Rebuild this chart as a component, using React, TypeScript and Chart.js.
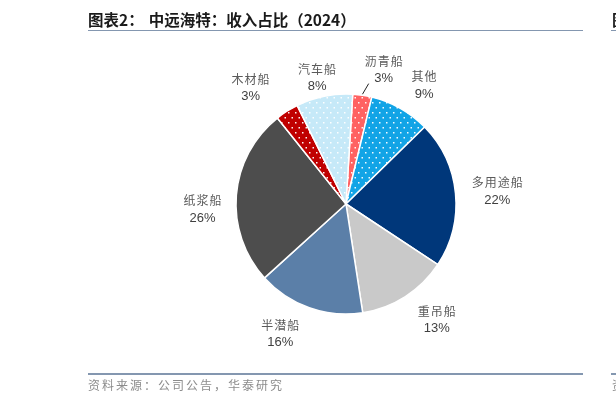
import { useEffect, useRef } from "react"
import { Chart, registerables } from "chart.js"

Chart.register(...registerables)

// Revenue share by ship type, clockwise from 12 o'clock
const categories = ["沥青船", "其他", "多用途船", "重吊船", "半潜船", "纸浆船", "木材船", "汽车船"]
const shares = [2.8, 8.9, 21.6, 13.3, 15.7, 26.0, 3.4, 8.3]
const shareLabels = ["3%", "9%", "22%", "13%", "16%", "26%", "3%", "8%"]

const sliceColors = ["#FF6262", "#12A4E6", "#00377A", "#C9C9C9", "#5B7FA8", "#4D4D4D", "#C00000", "#C6E9F8"]
const dotted = [true, true, false, false, false, false, true, true]
// label nudges (px) from the default spot just outside each slice
const labelNudge: [number, number][] = [
  [16, 10],
  [6, 8],
  [6, 1],
  [12, -7],
  [-17, -8],
  [2, 17],
  [-17, 7],
  [0, 17],
]
const leaderLine = [true, false, false, false, false, false, false, false]

function dotPattern(color: string) {
  const c = document.createElement("canvas")
  c.width = 7
  c.height = 10
  const g = c.getContext("2d")!
  g.fillStyle = color
  g.fillRect(0, 0, 7, 10)
  g.fillStyle = "rgba(255,255,255,0.95)"
  g.fillRect(1, 2, 1.5, 1.5)
  g.fillRect(4.5, 7, 1.5, 1.5)
  return g.createPattern(c, "repeat")!
}

const labelPlugin = {
  id: "sliceLabels",
  afterDatasetsDraw(chart: any) {
    const ctx = chart.ctx
    const arcs = chart.getDatasetMeta(0).data
    ctx.save()
    ctx.textAlign = "center"
    ctx.textBaseline = "middle"
    arcs.forEach((arc: any, i: number) => {
      const { x, y, startAngle, endAngle, outerRadius } = arc.getProps(
        ["x", "y", "startAngle", "endAngle", "outerRadius"],
        true
      )
      const mid = (startAngle + endAngle) / 2
      const lx = x + Math.cos(mid) * (outerRadius + 36) + labelNudge[i][0]
      const ly = y + Math.sin(mid) * (outerRadius + 36) + labelNudge[i][1]

      if (leaderLine[i]) {
        ctx.strokeStyle = "#222"
        ctx.lineWidth = 1
        ctx.beginPath()
        ctx.moveTo(x + Math.cos(mid) * (outerRadius + 1), y + Math.sin(mid) * (outerRadius + 1))
        ctx.lineTo(lx - 15, ly + 14)
        ctx.stroke()
      }

      ctx.fillStyle = "#5a5a5a"
      ctx.font = '12px "Noto Sans CJK SC"'
      ctx.letterSpacing = "1px"
      ctx.fillText(categories[i], lx + 0.5, ly - 8.5)
      ctx.letterSpacing = "0px"
      ctx.fillStyle = "#404040"
      ctx.font = '13px "Liberation Sans"'
      ctx.fillText(shareLabels[i], lx, ly + 9)
    })
    ctx.restore()
  },
}

function RevenuePie() {
  const chartRef = useRef<HTMLCanvasElement>(null)
  const chartInstance = useRef<Chart | null>(null)

  useEffect(() => {
    if (!chartRef.current) return
    if (chartInstance.current) chartInstance.current.destroy()
    const ctx = chartRef.current.getContext("2d")
    if (!ctx) return

    const fills = sliceColors.map((c, i) => (dotted[i] ? dotPattern(c) : c))

    chartInstance.current = new Chart(ctx, {
      type: "pie",
      data: {
        labels: categories,
        datasets: [
          {
            data: shares,
            backgroundColor: fills as any,
            borderColor: "#ffffff",
            borderWidth: 1.5,
          },
        ],
      },
      options: {
        animation: false,
        responsive: true,
        maintainAspectRatio: false,
        rotation: 3.5,
        radius: 110,
        layout: { padding: { left: 76, top: 5, right: 0, bottom: 0 } },
        plugins: {
          legend: { display: false },
          tooltip: { enabled: false },
        },
      },
      plugins: [labelPlugin],
    })

    return () => {
      if (chartInstance.current) {
        chartInstance.current.destroy()
        chartInstance.current = null
      }
    }
  }, [])

  return (
    <div style={{ position: "absolute", left: 0, top: 0, width: 616, height: 403 }}>
      <canvas ref={chartRef} />
    </div>
  )
}

export default function App() {
  const rule = "#8497B0"
  const titleStyle = {
    position: "absolute" as const,
    top: 9,
    lineHeight: "20px",
    fontSize: 15.5,
    fontWeight: 700,
    color: "#1a1a1a",
    whiteSpace: "nowrap" as const,
  }
  const sourceStyle = {
    position: "absolute" as const,
    top: 377,
    lineHeight: "16px",
    fontSize: 12,
    letterSpacing: 2,
    color: "#8c8c8c",
    whiteSpace: "nowrap" as const,
  }
  return (
    <div
      style={{
        position: "absolute",
        left: 0,
        top: 0,
        width: 616,
        height: 403,
        overflow: "hidden",
        background: "#fff",
        fontFamily: '"Noto Sans CJK SC", sans-serif',
      }}
    >
      <RevenuePie />
      <div style={{ ...titleStyle, left: 88 }}>
        图表2：<span style={{ marginLeft: 5 }}>中远海特：收入占比（2024）</span>
      </div>
      <div style={{ ...titleStyle, left: 612 }}>图</div>
      <div style={{ position: "absolute", left: 88, top: 29.5, width: 495, height: 1.5, background: rule }} />
      <div style={{ position: "absolute", left: 611, top: 29.5, width: 5, height: 1.5, background: rule }} />
      <div style={{ position: "absolute", left: 88, top: 373, width: 495, height: 1.5, background: rule }} />
      <div style={{ position: "absolute", left: 611, top: 373, width: 5, height: 1.5, background: rule }} />
      <div style={{ ...sourceStyle, left: 88 }}>资料来源：公司公告，华泰研究</div>
      <div style={{ ...sourceStyle, left: 612 }}>资</div>
    </div>
  )
}
